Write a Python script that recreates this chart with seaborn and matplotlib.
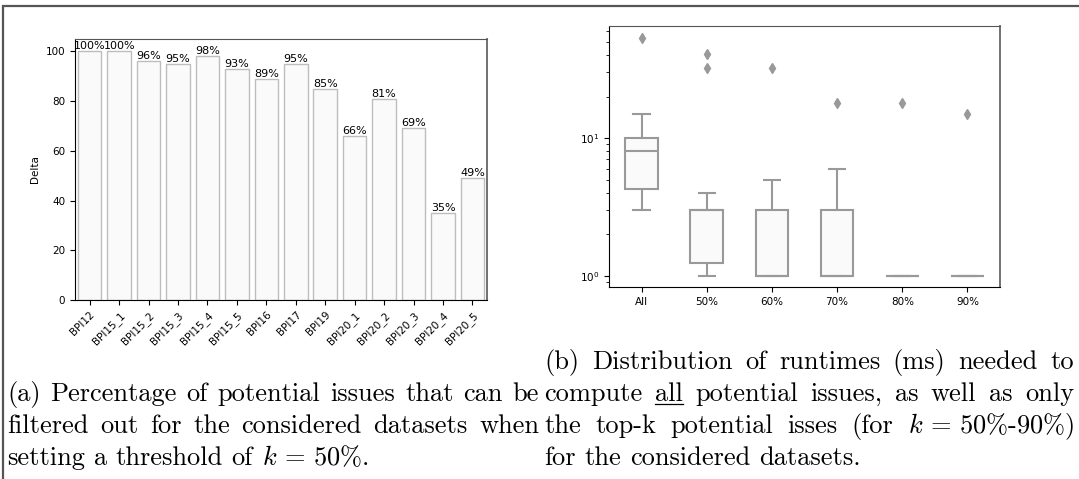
import numpy as np
import pandas as pd
import matplotlib
matplotlib.use("Agg")
import matplotlib.pyplot as plt
import seaborn as sns

# (a) share of potential issues filtered out at k = 50%
datasets = ["BPI12", "BPI15_1", "BPI15_2", "BPI15_3", "BPI15_4", "BPI15_5", "BPI16",
            "BPI17", "BPI19", "BPI20_1", "BPI20_2", "BPI20_3", "BPI20_4", "BPI20_5"]
delta = [100, 100, 96, 95, 98, 93, 89, 95, 85, 66, 81, 69, 35, 49]

# (b) runtimes (ms) per dataset, for all issues and the top-k variants
k_levels = ["All", "50%", "60%", "70%", "80%", "90%"]
rt_all = [3, 3, 4, 4, 5, 6, 8, 8, 9, 10, 10, 12, 15, 53]
rt_50 = [1, 1, 1, 1, 2, 3, 3, 3, 3, 3, 3, 4, 32, 41]
rt_60 = [1, 1, 1, 1, 1, 1, 1, 1, 2, 3, 3, 3, 5, 32]
rt_70 = [1, 1, 1, 1, 1, 1, 1, 1, 2, 3, 3, 4, 6, 18]
rt_80 = [1, 1, 1, 1, 1, 1, 1, 1, 1, 1, 1, 1, 1, 18]
rt_90 = [1, 1, 1, 1, 1, 1, 1, 1, 1, 1, 1, 1, 1, 15]

caption_a = [
    "(a) Percentage of potential issues that can be",
    "filtered out for the considered datasets when",
    r"setting a threshold of $k\,=\,50\%$.",
]
caption_b = [
    "(b) Distribution of runtimes (ms) needed to",
    "compute all potential issues, as well as only",
    r"the top-k potential isses (for $k\,=\,50\%$-90%)",
    "for the considered datasets.",
]

plt.rcParams["mathtext.fontset"] = "cm"
plt.rcParams["axes.unicode_minus"] = False

FILL = "#fafafa"
BAR_EDGE = "#bdbdbd"
BOX_EDGE = "#999999"

fig = plt.figure(figsize=(10.79, 4.79), dpi=100)

# ---- (a) bar chart
ax1 = fig.add_axes([0.0695, 0.3737, 0.382, 0.545])
bar_df = pd.DataFrame({"dataset": datasets, "delta": delta})
sns.barplot(data=bar_df, x="dataset", y="delta", color=FILL, saturation=1,
            edgecolor=BAR_EDGE, linewidth=1.0, ax=ax1)
ax1.bar_label(ax1.containers[0], labels=[f"{v}%" for v in delta], fontsize=8, padding=0)
ax1.set_xlabel("")
ax1.set_ylabel("Delta", fontsize=7.5)
ax1.set_ylim(0, 105)
ax1.tick_params(axis="both", labelsize=7.5)
plt.setp(ax1.get_xticklabels(), rotation=45, ha="right", rotation_mode="anchor")

# ---- (b) box plot
ax2 = fig.add_axes([0.5644, 0.4008, 0.3624, 0.545])
runtimes = [rt_all, rt_50, rt_60, rt_70, rt_80, rt_90]
box_df = pd.DataFrame({
    "k": np.repeat(k_levels, [len(r) for r in runtimes]),
    "runtime": np.concatenate(runtimes),
})
sns.boxplot(data=box_df, x="k", y="runtime", order=k_levels, color=FILL, saturation=1,
            linecolor=BOX_EDGE, linewidth=1.5, width=0.5,
            flierprops=dict(marker="d", markerfacecolor=BOX_EDGE, markeredgecolor=BOX_EDGE,
                            markersize=5),
            ax=ax2)
ax2.set_yscale("log")
ax2.set_ylim(0.83, 65)
ax2.set_xlabel("")
ax2.set_ylabel("")
ax2.tick_params(axis="both", labelsize=7.5)

for ax in (ax1, ax2):
    ax.spines["top"].set_color("#555555")
    ax.spines["right"].set_color("#666666")
    ax.spines["right"].set_linewidth(1.3)

# ---- captions, justified like the LaTeX source
renderer = fig.canvas.get_renderer()
CAP_FONT = dict(family="cmr10", fontsize=19)


def word_width(word):
    t = fig.text(0, 0, word, **CAP_FONT)
    w = t.get_window_extent(renderer).width
    t.remove()
    return w


def put_line(line, x0, x1, y, justify):
    words = line.split(" ")
    widths = [word_width(w) for w in words]
    space = word_width("a a") - word_width("aa")
    if justify and len(words) > 1:
        space = (x1 - x0 - sum(widths)) / (len(words) - 1)
    x = x0
    for w, wd in zip(words, widths):
        fig.text(x / 1079, 1 - y / 479, w, ha="left", va="baseline", **CAP_FONT)
        if w == "all":
            fig.add_artist(plt.Line2D([x / 1079, (x + wd) / 1079],
                                      [1 - (y + 3) / 479] * 2, color="black", lw=0.9))
        x += wd + space


base_a = [401, 433, 465]
for i, line in enumerate(caption_a):
    put_line(line, 7, 539, base_a[i], justify=i < len(caption_a) - 1)
base_b = [369, 401, 433, 465]
for i, line in enumerate(caption_b):
    put_line(line, 544, 1074, base_b[i], justify=i < len(caption_b) - 1)

# outer frame of the figure environment
fig.add_artist(plt.Rectangle((3 / 1079, -0.05), 1.1, 1 - 6 / 479 + 0.05,
                             fill=False, edgecolor="#555555", lw=1.6))

fig.savefig("out.png", dpi=100)
